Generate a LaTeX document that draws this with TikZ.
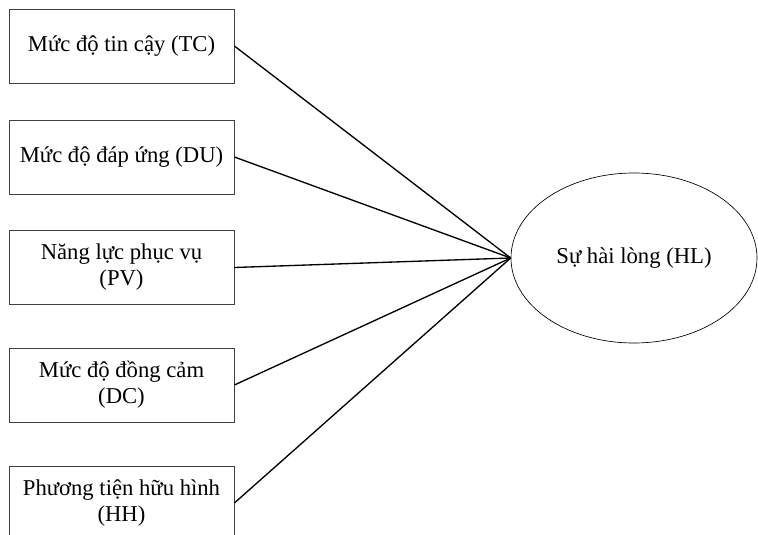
\documentclass[tikz,border=0pt]{standalone}
\usepackage{fontspec}
\setmainfont{Liberation Serif}
\usetikzlibrary{shapes.geometric}
\definecolor{boxDraw}{HTML}{404040}
\tikzset{
  font=\fontsize{17}{19.5}\selectfont,
  factor/.style ={draw=boxDraw, rectangle, align=center, inner sep=2pt, minimum width=168.75pt, minimum height=55.5pt, line width=0.6pt},
  outcome/.style={draw=black, ellipse, align=center, minimum width=184.5pt, minimum height=127.5pt, line width=0.5pt},
  link/.style   ={draw=black, line width=1pt},
}
\begin{document}
\begin{tikzpicture}[x=0.75pt, y=-0.75pt]
  \useasboundingbox (0,0) rectangle (758,535);
  \clip (0,0) rectangle (758,535);

  % five factors (left column)
  \node[factor] (tc) at (121.5,46)  {Mức độ tin cậy (TC)};
  \node[factor] (du) at (121.5,157) {Mức độ đáp ứng (DU)};
  \node[factor] (pv) at (121.5,267.5) {Năng lực phục vụ\\(PV)};
  \node[factor] (dc) at (121.5,385) {Mức độ đồng cảm\\(DC)};
  \node[factor] (hh) at (121.5,503) {Phương tiện hữu hình\\(HH)};

  % satisfaction (right)
  \node[outcome] (hl) at (634,258) {Sự hài lòng (HL)};

  \foreach \f in {tc,du,pv,dc,hh}
    \draw[link] (\f.east) -- (hl.west);
\end{tikzpicture}
\end{document}
